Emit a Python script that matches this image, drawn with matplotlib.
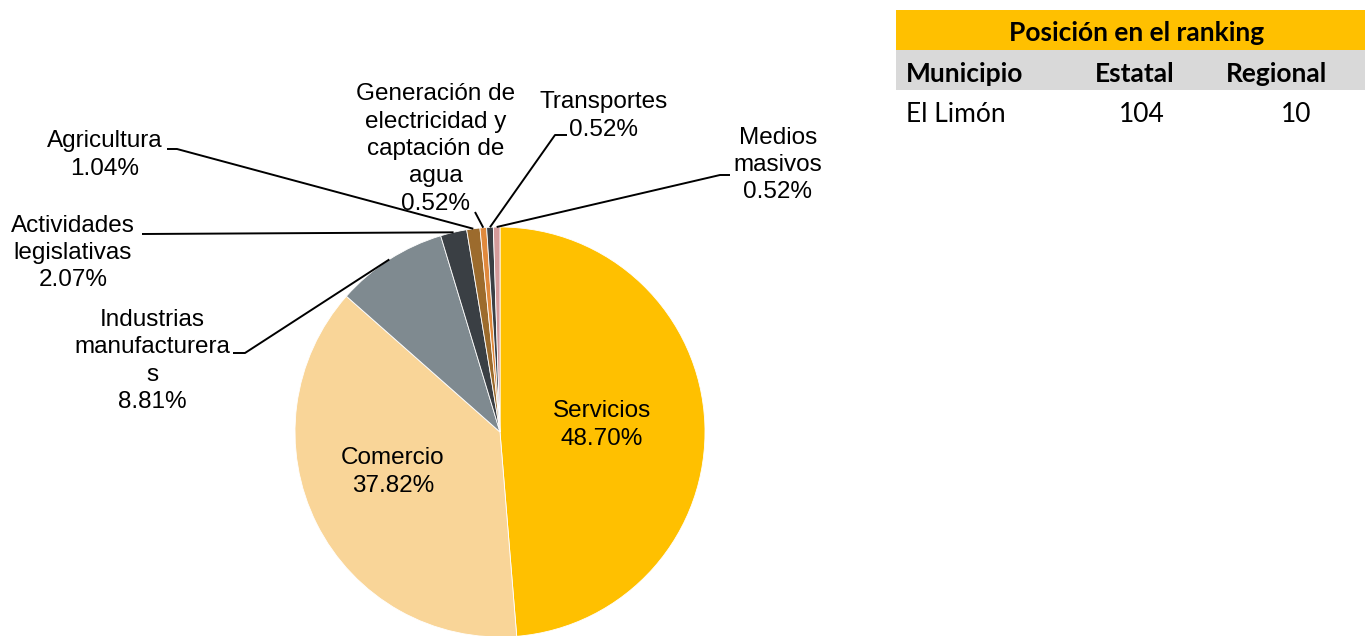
import numpy as np
import matplotlib
matplotlib.use('Agg')
import matplotlib.pyplot as plt
from matplotlib.patches import Rectangle

# sectores y participacion (%)
sectores = ['Servicios', 'Comercio', 'Industrias\nmanufacturera\ns',
            'Actividades\nlegislativas', 'Agricultura',
            'Generación de\nelectricidad y\ncaptación de\nagua',
            'Transportes', 'Medios\nmasivos']
valores = [48.70, 37.82, 8.81, 2.07, 1.04, 0.52, 0.52, 0.52]
colores = ['#FFC000', '#F9D598', '#7F8A90', '#3A3F44', '#9C6B2D',
           '#E0893D', '#3A3F44', '#D49A9A']

# tabla de ranking
tabla_titulo = 'Posición en el ranking'
tabla_cols = ['Municipio', 'Estatal', 'Regional']
tabla_fila = ['El Limón', '104', '10']

H = 636
fig = plt.figure(figsize=(13.65, 6.36), dpi=100)
ax = fig.add_axes([0, 0, 1, 1])

cx, cy, r = 500, H - 432, 205
wedges, _ = ax.pie(valores, colors=colores, startangle=90, counterclock=False,
                   center=(cx, cy), radius=r, frame=True,
                   wedgeprops=dict(linewidth=0.6, edgecolor='white'))
ax.set_xlim(0, 1365)
ax.set_ylim(0, H)
ax.set_aspect('equal')
ax.axis('off')

lbl = dict(fontsize=17.5, family='Liberation Sans', ha='center', va='center',
           linespacing=1.32, color='black')

def txt(i, x, y):
    ax.text(x, H - y, '%s\n%.2f%%' % (sectores[i], valores[i]), **lbl)

def edge(i, frac=0.5):
    w = wedges[i]
    a = np.deg2rad(w.theta1 + (w.theta2 - w.theta1) * frac)
    return cx + r * np.cos(a), cy + r * np.sin(a)

def leader(i, pts, frac=0.5):
    ex, ey = edge(i, frac)
    xs = [ex] + [p[0] for p in pts]
    ys = [ey] + [H - p[1] for p in pts]
    ax.plot(xs, ys, color='black', lw=1.4, solid_capstyle='butt')

# etiquetas internas
txt(0, 602, 425)
txt(1, 393, 472)

# etiquetas externas con lineas guia
txt(2, 152, 361)
leader(2, [(245, 353), (233, 353)])
txt(3, 73, 253)
leader(3, [(142, 234)])
txt(4, 105, 155)
leader(4, [(177, 149), (167, 149)])
txt(5, 436, 149)
leader(5, [(475, 212)])
txt(6, 604, 116)
leader(6, [(555, 135), (567, 135)])
txt(7, 778, 165)
leader(7, [(720, 175), (730, 175)])

# tabla
ax.add_patch(Rectangle((896, H - 50), 469, 40, color='#FFC000', lw=0))
ax.add_patch(Rectangle((896, H - 90), 469, 40, color='#D9D9D9', lw=0))
tf = dict(family=['Lato', 'DejaVu Sans'], fontsize=19, va='center')
ax.text(1137, H - 33, tabla_titulo, ha='center', weight='bold', **tf)
ax.text(906, H - 74, tabla_cols[0], ha='left', weight='bold', **tf)
ax.text(1135, H - 74, tabla_cols[1], ha='center', weight='bold', **tf)
ax.text(1277, H - 74, tabla_cols[2], ha='center', weight='bold', **tf)
ax.text(906, H - 114, tabla_fila[0], ha='left', **tf)
ax.text(1142, H - 114, tabla_fila[1], ha='center', **tf)
ax.text(1296, H - 114, tabla_fila[2], ha='center', **tf)

fig.savefig('out.png', dpi=100)
